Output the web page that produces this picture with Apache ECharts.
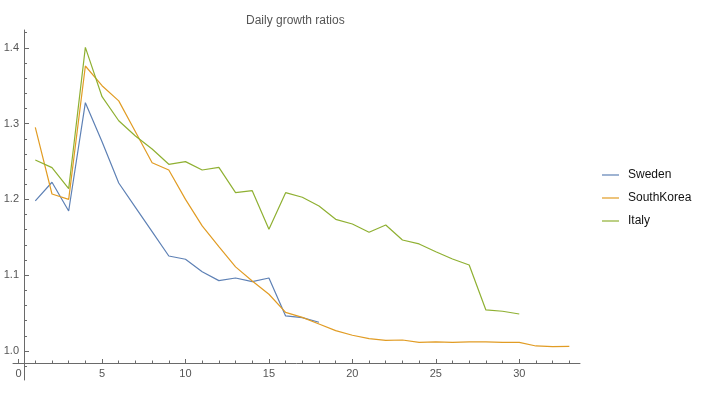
<!DOCTYPE html>
<html>
<head>
<meta charset="utf-8">
<script src="https://cdn.jsdelivr.net/npm/echarts@6/dist/echarts.min.js"></script>
<style>html,body{margin:0;padding:0;background:#fff}#c{width:702px;height:397px}</style>
</head>
<body>
<div id="c"></div>
<script>
var titleText = 'Daily growth ratios';
var seriesNames = ['Sweden', 'SouthKorea', 'Italy'];
var sweden = [1.198, 1.2226, 1.1847, 1.3276, 1.276, 1.2216, 1.1895, 1.1574, 1.1253, 1.121, 1.1046, 1.0928, 1.0963, 1.0915, 1.0963, 1.0462, 1.044, 1.0379];
var southKorea = [1.2951, 1.2071, 1.200, 1.376, 1.350, 1.330, 1.2893, 1.2484, 1.2388, 1.200, 1.165, 1.1376, 1.111, 1.0923, 1.0748, 1.051, 1.0444, 1.0356, 1.0268, 1.0207, 1.0163, 1.0141, 1.0145, 1.0114, 1.0119, 1.0114, 1.0119, 1.0119, 1.0114, 1.0114, 1.0066, 1.0057, 1.006];
var italy = [1.252, 1.2419, 1.2141, 1.4006, 1.3355, 1.3038, 1.2836, 1.2665, 1.2463, 1.2498, 1.2388, 1.2423, 1.2089, 1.2115, 1.1606, 1.2089, 1.2028, 1.1913, 1.1737, 1.1675, 1.1566, 1.1662, 1.1464, 1.1412, 1.131, 1.1214, 1.1135, 1.0541, 1.0524, 1.0488];
var xMajorTicks = [0, 5, 10, 15, 20, 25, 30];
var xMinorTicks = [1,2,3,4,6,7,8,9,11,12,13,14,16,17,18,19,21,22,23,24,26,27,28,29,31,32,33];
var yMajorTicks = [1.0, 1.1, 1.2, 1.3, 1.4];
var yMinorTicks = [0.98, 1.02, 1.04, 1.06, 1.08, 1.12, 1.14, 1.16, 1.18, 1.22, 1.24, 1.26, 1.28, 1.32, 1.34, 1.36, 1.38, 1.42];
var colors = ['#5E81B5', '#E19C24', '#8FB032'];

function toPairs(arr) { return arr.map(function (v, i) { return [i + 1, v]; }); }

var XMIN = -0.336, XMAX = 33.64, YMIN = 0.9617, YMAX = 1.4235;
var axisColor = '#6a6a6a';
var labelColor = '#555';
var font = 'Liberation Sans, Arial, sans-serif';

var chart = echarts.init(document.getElementById('c'), null, {renderer: 'canvas'});
chart.setOption({
  animation: false,
  backgroundColor: '#fff',
  title: {
    text: titleText, left: 246, top: 15, padding: 0,
    textStyle: {fontFamily: font, fontSize: 12, fontWeight: 'normal', color: '#555'}
  },
  legend: {
    orient: 'vertical', left: 597, top: 163,
    icon: 'rect', itemWidth: 17, itemHeight: 1.2, itemGap: 9,
    textStyle: {fontFamily: font, fontSize: 12, lineHeight: 14, color: '#111', padding: [0, 0, 0, 4]},
    data: seriesNames
  },
  grid: {left: 13, right: 122, top: 30, bottom: 17, containLabel: false},
  xAxis: [{
    type: 'value', min: XMIN, max: XMAX, position: 'bottom', offset: -17,
    axisLine: {show: true, lineStyle: {color: axisColor, width: 1}},
    axisTick: {show: true, inside: true, length: 4, customValues: xMajorTicks, lineStyle: {color: axisColor}},
    axisLabel: {show: true, customValues: xMajorTicks, color: labelColor, fontFamily: font, fontSize: 11, margin: 5},
    splitLine: {show: false}
  }, {
    type: 'value', min: XMIN, max: XMAX, position: 'bottom', offset: -17,
    axisLine: {show: false},
    axisTick: {show: true, inside: true, length: 2.5, customValues: xMinorTicks, lineStyle: {color: axisColor}},
    axisLabel: {show: false},
    splitLine: {show: false}
  }],
  yAxis: [{
    type: 'value', min: YMIN, max: YMAX, position: 'left', offset: -11,
    axisLine: {show: true, onZero: false, lineStyle: {color: axisColor, width: 1}},
    axisTick: {show: true, inside: true, length: 5, customValues: yMajorTicks, lineStyle: {color: axisColor}},
    axisLabel: {show: true, customValues: yMajorTicks, color: labelColor, fontFamily: font, fontSize: 11, margin: 5,
      formatter: function (v) { return v.toFixed(1); }},
    splitLine: {show: false}
  }, {
    type: 'value', min: YMIN, max: YMAX, position: 'left', offset: -11,
    axisLine: {show: false},
    axisTick: {show: true, inside: true, length: 3, customValues: yMinorTicks, lineStyle: {color: axisColor}},
    axisLabel: {show: false},
    splitLine: {show: false}
  }],
  series: [
    {name: seriesNames[0], type: 'line', data: toPairs(sweden), symbol: 'none', color: colors[0], lineStyle: {width: 1.2, color: colors[0]}},
    {name: seriesNames[1], type: 'line', data: toPairs(southKorea), symbol: 'none', color: colors[1], lineStyle: {width: 1.2, color: colors[1]}},
    {name: seriesNames[2], type: 'line', data: toPairs(italy), symbol: 'none', color: colors[2], lineStyle: {width: 1.2, color: colors[2]}}
  ]
});
</script>
</body>
</html>
